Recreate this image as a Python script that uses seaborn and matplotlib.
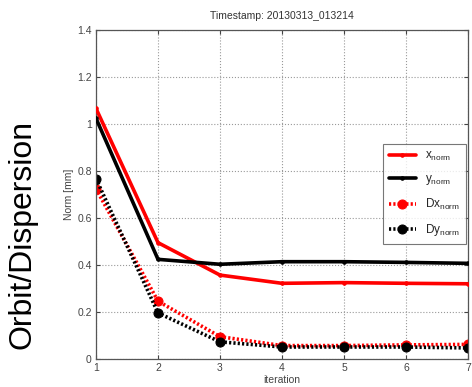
import matplotlib
matplotlib.use("Agg")
import matplotlib.pyplot as plt
import seaborn as sns
import pandas as pd

iterations = [1, 2, 3, 4, 5, 6, 7]
x_norm = [1.066, 0.495, 0.357, 0.322, 0.325, 0.322, 0.320]
y_norm = [1.024, 0.424, 0.403, 0.414, 0.414, 0.411, 0.407]
dx_norm = [0.724, 0.246, 0.095, 0.057, 0.057, 0.060, 0.062]
dy_norm = [0.767, 0.196, 0.073, 0.051, 0.051, 0.051, 0.047]
labels = [r'x$_{\mathrm{norm}}$', r'y$_{\mathrm{norm}}$',
          r'Dx$_{\mathrm{norm}}$', r'Dy$_{\mathrm{norm}}$']
y_ticks = [0, 0.2, 0.4, 0.6, 0.8, 1.0, 1.2, 1.4]
y_tick_labels = ['0', '0.2', '0.4', '0.6', '0.8', '1', '1.2', '1.4']

sns.set_style("white")
plt.rcParams['font.family'] = ['Liberation Sans', 'DejaVu Sans']
plt.rcParams['mathtext.fontset'] = 'custom'
plt.rcParams['mathtext.rm'] = 'Liberation Sans'
plt.rcParams['mathtext.it'] = 'Liberation Sans'

fig = plt.figure(figsize=(4.72, 3.87), dpi=100)
ax = fig.add_axes([0.2034, 0.0724, 0.7881, 0.8501])

series = [
    ('red', '-', '.', 5),
    ('black', '-', '.', 5),
    ('red', (0, (0.6, 0.6)), 'o', 6.5),
    ('black', (0, (0.6, 0.6)), 'o', 6.5),
]
for vals, lab, (c, ls, mk, ms) in zip([x_norm, y_norm, dx_norm, dy_norm], labels, series):
    sns.lineplot(x=iterations, y=vals, ax=ax, color=c, linestyle=ls, marker=mk,
                 markersize=ms, markeredgecolor=c, linewidth=2.6, label=lab,
                 zorder=3 if ls == '-' else 2)

ax.set_xlim(1, 7)
ax.set_ylim(0, 1.4)
ax.set_xticks(iterations)
ax.set_yticks(y_ticks)
ax.set_yticklabels(y_tick_labels)
ax.grid(True, linestyle=':', color='#999999', linewidth=0.8)
ax.tick_params(direction='in', length=3, labelsize=7.5, colors='#444444',
               top=True, right=True, bottom=True, left=True, pad=3)
for sp in ax.spines.values():
    sp.set_color('#555555')
    sp.set_linewidth(0.9)
ax.set_xlabel('iteration', fontsize=7.5, color='#444444', labelpad=1)
ax.set_ylabel('Norm [mm]', fontsize=7.5, color='#444444', labelpad=2)
ax.set_title('Timestamp: 20130313_013214', fontsize=7.5, color='#333333', pad=8)

leg = ax.legend(loc='upper left', bbox_to_anchor=(0.771, 0.653), borderaxespad=0,
                fontsize=8.5, frameon=True, fancybox=False, edgecolor='#555555',
                handlelength=2.3, labelspacing=0.85, borderpad=0.5)
leg.get_frame().set_linewidth(0.8)

fig.text(0.047, 0.395, 'Orbit/Dispersion', rotation=90, fontsize=23,
         va='center', ha='center', color='black')

fig.savefig('out.png', dpi=100)
